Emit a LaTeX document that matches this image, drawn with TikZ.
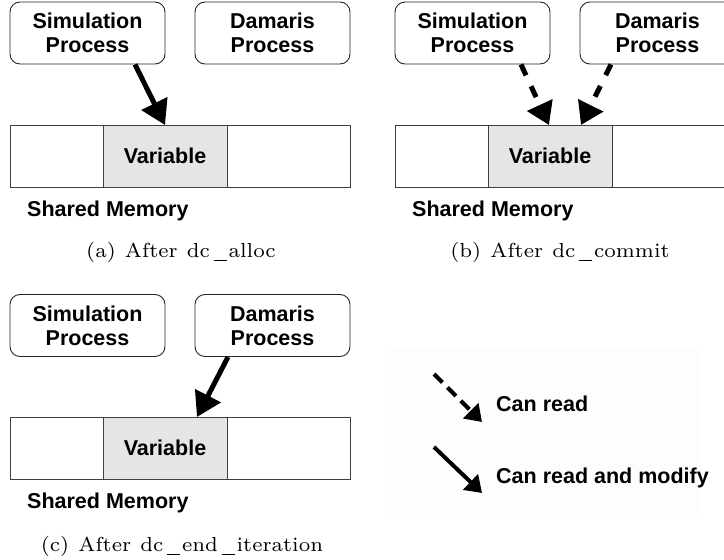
\documentclass[tikz,border=0pt]{standalone}
\usepackage{fontspec}
\newfontfamily\arialb{Liberation Sans}
\usetikzlibrary{arrows.meta,calc}
\newcommand\usc{\kern0.18em\rule[-0.18em]{0.64em}{0.05em}\kern0.1em}
\newcommand\cgap{\hspace{0.45em}}
\begin{document}
\begin{tikzpicture}[x=1pt,y=-1pt,
  sf/.style={font=\arialb\bfseries\fontsize{21.5}{24}\selectfont},
  proc/.style={sf, draw=black!85, line width=0.9pt, rounded corners=10pt, minimum width=155pt, minimum height=62pt, inner sep=0pt, align=center},
  cell/.style={sf, draw=black!75, line width=0.9pt, minimum height=62pt, inner sep=0pt, outer sep=0pt},
  varcell/.style={cell, fill=black!10},
  lbl/.style={sf, anchor=base west, inner sep=0pt},
  captext/.style={font=\fontsize{7}{8}\selectfont, anchor=base, inner sep=0pt, scale=2.9, transform shape},
  rw/.style={line width=5pt, -{Triangle[length=24pt,width=28pt]}},
  ro/.style={line width=5pt, dash pattern=on 12pt off 12pt, -{Triangle[length=22pt,width=27pt]}},
  lrw/.style={line width=4pt, -{Triangle[length=16pt,width=21pt]}},
  lro/.style={line width=4pt, dash pattern=on 12pt off 7pt, -{Triangle[length=16pt,width=21pt]}},
]
\useasboundingbox (0,0) rectangle (724,560);
\clip (0,0) rectangle (724,560);

% legend background
\fill[black!0.8] (386,348) rectangle (701,518);

% ---------- panel (a)
\node[proc] (simA) at (87.5,33) {Simulation\\Process};
\node[proc] (damA) at (272.5,33) {Damaris\\Process};
\node[cell, minimum width=93pt] (lA) at (56.5,156) {};
\node[varcell, minimum width=124pt] (varA) at (165,156) {Variable};
\node[cell, minimum width=123pt] (rA) at (288.5,156) {};
\node[lbl] (smA) at (27,216) {Shared Memory};
\node[captext] (capA) at (181,257) {(a)\cgap After\cgap dc\usc alloc};
\draw[rw] ([xshift=47.5pt]simA.south) -- (varA.north);

% ---------- panel (b)
\node[proc] (simB) at (472.5,33) {Simulation\\Process};
\node[proc] (damB) at (657.5,33) {Damaris\\Process};
\node[cell, minimum width=93pt] (lB) at (441.5,156) {};
\node[varcell, minimum width=124pt] (varB) at (550,156) {Variable};
\node[cell, minimum width=123pt] (rB) at (673.5,156) {};
\node[lbl] (smB) at (412,216) {Shared Memory};
\node[captext] (capB) at (560,257) {(b)\cgap After\cgap dc\usc commit};
\draw[ro] ([xshift=48.5pt]simB.south) -- ([xshift=-1pt]varB.north);
\draw[ro] ([xshift=-46.5pt]damB.south) -- ([xshift=31pt]varB.north);

% ---------- panel (c)
\node[proc] (simC) at (87.5,325.5) {Simulation\\Process};
\node[proc] (damC) at (272.5,325.5) {Damaris\\Process};
\node[cell, minimum width=93pt] (lC) at (56.5,448) {};
\node[varcell, minimum width=124pt] (varC) at (165,448) {Variable};
\node[cell, minimum width=123pt] (rC) at (288.5,448) {};
\node[lbl] (smC) at (27,508) {Shared Memory};
\node[captext] (capC) at (182,551) {(c)\cgap After\cgap dc\usc end\usc iteration};
\draw[rw] ([xshift=-44.5pt]damC.south) -- ([xshift=32pt]varC.north);

% ---------- legend
\coordinate (l1s) at (434,374);
\coordinate (l1e) at (482,422);
\coordinate (l2s) at (434,447);
\coordinate (l2e) at (482,493);
\draw[lro] (l1s) -- (l1e);
\draw[lrw] (l2s) -- (l2e);
\node[lbl] (t1) at (496,411) {Can read};
\node[lbl] (t2) at (496,483) {Can read and modify};
\end{tikzpicture}
\end{document}
